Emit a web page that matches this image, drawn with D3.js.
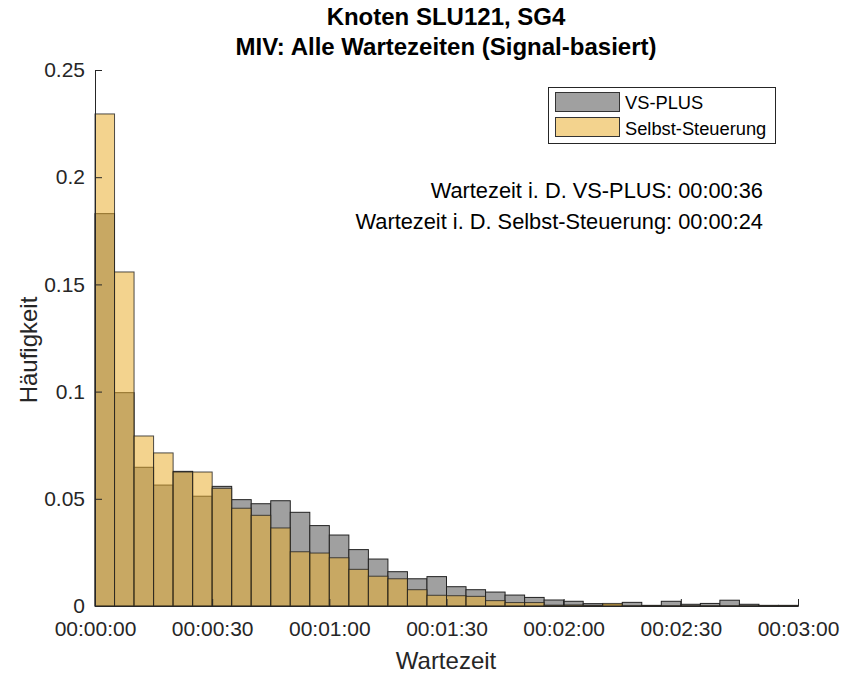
<!DOCTYPE html>
<html><head><meta charset="utf-8">
<script src="https://cdn.jsdelivr.net/npm/d3@7"></script>
<style>body{margin:0;background:#fff}svg{display:block;font-family:"Liberation Sans",Arial,sans-serif}</style>
</head><body><svg id="c" width="842" height="673"></svg>
<script>
const binEdgesSec = [0,5,10,15,20,25,30,35,40,45,50,55,60,65,70,75,80,85,90,95,100,105,110,115,120,125,130,135,140,145,150,155,160,165,170,175,180];
const vsPlus = [0.183,0.0995,0.0647,0.0564,0.0628,0.0512,0.0558,0.0496,0.0477,0.0491,0.0437,0.0375,0.0331,0.0263,0.0219,0.0160,0.0127,0.0137,0.0090,0.0076,0.0065,0.0051,0.0040,0.0028,0.0022,0.0011,0.0008,0.0017,0.0003,0.0022,0.0008,0.0012,0.0027,0.0008,0.0003,0.0003];
const selbst = [0.2295,0.1558,0.0793,0.0714,0.0625,0.0625,0.0549,0.0456,0.0423,0.0364,0.0253,0.0247,0.0225,0.0171,0.0139,0.0127,0.0076,0.0050,0.0048,0.0045,0.0025,0.0016,0.0016,0.0004,0.0005,0.0003,0.0012,0.0001,0.0001,0.0001,0.0001,0.0001,0.0001,0.0001,0.0001,0.0001];
const xTicks = [0,30,60,90,120,150,180];
const xTickLabels = ["00:00:00","00:00:30","00:01:00","00:01:30","00:02:00","00:02:30","00:03:00"];
const yTicks = [0,0.05,0.1,0.15,0.2,0.25];
const yTickLabels = ["0","0.05","0.1","0.15","0.2","0.25"];
const seriesNames = ["VS-PLUS","Selbst-Steuerung"];
const titleLines = ["Knoten SLU121, SG4","MIV: Alle Wartezeiten (Signal-basiert)"];
const annotations = ["Wartezeit i. D. VS-PLUS: 00:00:36","Wartezeit i. D. Selbst-Steuerung: 00:00:24"];

const svg = d3.select("#c");
const m = {l:95, r:798, t:70, b:606};
const x = d3.scaleLinear().domain([0,180]).range([m.l,m.r]);
const y = d3.scaleLinear().domain([0,0.25]).range([m.b,m.t]);
const grayFill = "#a0a0a0", yelFill = "rgb(233,175,49)", yelOp = 0.55;
const axisCol = "#262626";
const ff = "Liberation Sans, Arial, sans-serif";

const bins = d3.range(vsPlus.length).map(i=>({x0:binEdgesSec[i],x1:binEdgesSec[i+1],g:vsPlus[i],s:selbst[i]}));

svg.append("g").selectAll("rect").data(bins).join("rect")
  .attr("x",d=>x(d.x0)).attr("width",d=>x(d.x1)-x(d.x0))
  .attr("y",d=>y(d.g)).attr("height",d=>y(0)-y(d.g))
  .attr("fill",grayFill).attr("stroke","#222").attr("stroke-width",1);
svg.append("g").selectAll("rect").data(bins).join("rect")
  .attr("x",d=>x(d.x0)).attr("width",d=>x(d.x1)-x(d.x0))
  .attr("y",d=>y(d.s)).attr("height",d=>y(0)-y(d.s))
  .attr("fill",yelFill).attr("fill-opacity",yelOp).attr("stroke","#222").attr("stroke-opacity",0.8).attr("stroke-width",1);

// axes
const xa = svg.append("g").attr("transform",`translate(0,${m.b})`)
  .call(d3.axisBottom(x).tickValues(xTicks).tickFormat((d,i)=>xTickLabels[i]).tickSizeInner(-7).tickSizeOuter(0).tickPadding(14));
const ya = svg.append("g").attr("transform",`translate(${m.l},0)`)
  .call(d3.axisLeft(y).tickValues(yTicks).tickFormat((d,i)=>yTickLabels[i]).tickSizeInner(-7).tickSizeOuter(0).tickPadding(10));
[xa,ya].forEach(a=>{a.attr("font-size",21).attr("font-family",ff);a.selectAll("path,line").attr("stroke",axisCol);a.selectAll("text").attr("fill",axisCol);});
xa.selectAll("text").attr("dy","0.75em");

svg.append("text").attr("x",446).attr("y",669).attr("text-anchor","middle").attr("font-size",24).attr("fill",axisCol).text("Wartezeit");
svg.append("text").attr("transform","translate(37,350) rotate(-90)").attr("text-anchor","middle").attr("font-size",24).attr("fill",axisCol).text("Häufigkeit");

svg.selectAll(".title").data(titleLines).join("text").attr("class","title")
  .attr("x",446).attr("y",(d,i)=>25+i*30).attr("text-anchor","middle").attr("font-size",24).attr("font-weight","bold").attr("fill","#000").text(d=>d);

// legend
const lg = svg.append("g");
lg.append("rect").attr("x",548.5).attr("y",87.5).attr("width",227).attr("height",56).attr("fill","#fff").attr("stroke","#262626");
const legFills = [{f:grayFill,o:1},{f:yelFill,o:yelOp}];
seriesNames.forEach((n,i)=>{
  lg.append("rect").attr("x",555.5).attr("y",92.5+i*25).attr("width",64).attr("height",19).attr("fill",legFills[i].f).attr("fill-opacity",legFills[i].o).attr("stroke","#333");
  lg.append("text").attr("x",625).attr("y",109+i*26).attr("font-size",18.3).attr("fill","#000").text(n);
});
svg.selectAll(".ann").data(annotations).join("text").attr("class","ann")
  .attr("x",763).attr("y",(d,i)=>198+i*31).attr("text-anchor","end").attr("font-size",21.8).attr("fill","#000").text(d=>d);
</script></body></html>
